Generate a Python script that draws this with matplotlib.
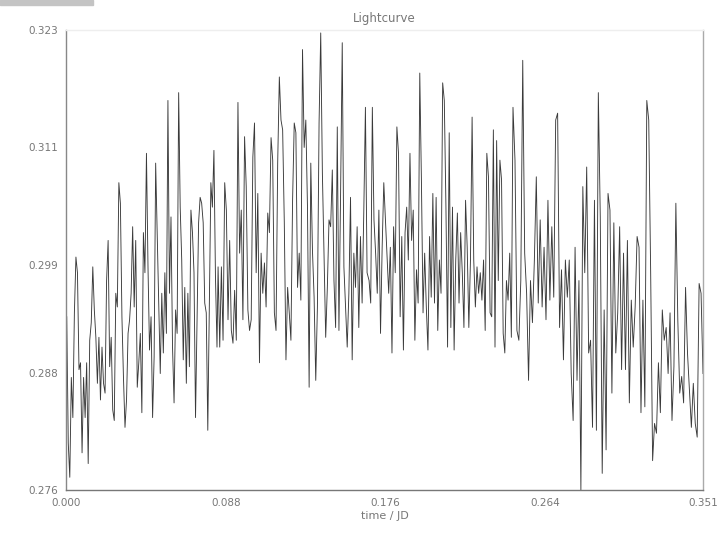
import numpy as np
import matplotlib
matplotlib.use("Agg")
import matplotlib.pyplot as plt
from matplotlib.patches import Rectangle

# flux values, left to right, in four stretches
flux_a = [0.2937, 0.2808, 0.2773, 0.2875, 0.2834, 0.2941, 0.2998, 0.2982, 0.2883, 0.2890,
          0.2798, 0.2875, 0.2834, 0.2890, 0.2787, 0.2913, 0.2931, 0.2988, 0.2944, 0.2916,
          0.2869, 0.2916, 0.2852, 0.2906, 0.2869, 0.2859, 0.2974, 0.3015, 0.2886, 0.2916,
          0.2842, 0.2831, 0.2961, 0.2947, 0.3074, 0.3053, 0.2937, 0.2875, 0.2824, 0.2852,
          0.2920, 0.2934, 0.2961, 0.3029, 0.2947, 0.3015, 0.2865, 0.2890, 0.2920, 0.2839,
          0.3023, 0.2982, 0.3104, 0.2988, 0.2903, 0.2937, 0.2834, 0.2896, 0.3094, 0.3023,
          0.2954, 0.2879, 0.2961, 0.2900, 0.2982, 0.2920, 0.3158, 0.2961, 0.3039, 0.2906,
          0.2849, 0.2944, 0.2920, 0.3166, 0.3049, 0.2995, 0.2893, 0.2967, 0.2869, 0.2961,
          0.2886, 0.3046, 0.3023, 0.2982, 0.2834, 0.2937, 0.3033, 0.3059, 0.3053, 0.3033,
          0.2951, 0.2941, 0.2821, 0.2947, 0.3074, 0.3049, 0.3107, 0.2978, 0.2906]
flux_b = [0.2988, 0.2906, 0.2988, 0.2913, 0.3074, 0.3046, 0.2934, 0.3015, 0.2923, 0.2910,
          0.2964, 0.2913, 0.3156, 0.3002, 0.3046, 0.2934, 0.3121, 0.3070, 0.2944, 0.2923,
          0.2934, 0.3100, 0.3135, 0.2982, 0.3063, 0.2890, 0.3002, 0.2961, 0.2992, 0.2947,
          0.3043, 0.3023, 0.3120, 0.3097, 0.2941, 0.2923, 0.3094, 0.3182, 0.3138, 0.3128,
          0.3033, 0.2893, 0.2967, 0.2941, 0.2913, 0.3056, 0.3135, 0.3125, 0.2967, 0.3002,
          0.2954, 0.3210, 0.3110, 0.3138, 0.3049, 0.2865, 0.3094, 0.3005, 0.2957, 0.2872,
          0.2947, 0.3135, 0.3227, 0.3084, 0.3002, 0.2916, 0.2967, 0.3036, 0.3029, 0.3087,
          0.2974, 0.2926, 0.3131, 0.2923, 0.3063, 0.3217, 0.2988, 0.2947, 0.2906, 0.2961,
          0.3059, 0.2893, 0.3002, 0.2967, 0.3029, 0.2926, 0.3019, 0.2951, 0.3043, 0.3151,
          0.2982]
flux_c = [0.2974, 0.2951, 0.3151, 0.3036, 0.3002, 0.2961, 0.3046, 0.2920, 0.3008, 0.3074,
          0.3036, 0.2998, 0.2961, 0.3008, 0.2900, 0.3029, 0.2982, 0.3131, 0.3104, 0.2937,
          0.3019, 0.2903, 0.3023, 0.3049, 0.2995, 0.3104, 0.3015, 0.3046, 0.2913, 0.2985,
          0.2951, 0.3186, 0.3077, 0.2941, 0.3002, 0.2947, 0.2903, 0.3019, 0.2957, 0.3063,
          0.2951, 0.3059, 0.2923, 0.2995, 0.2961, 0.3176, 0.3158, 0.3049, 0.2906, 0.3125,
          0.2926, 0.3049, 0.2903, 0.2995, 0.3043, 0.2951, 0.3023, 0.2982, 0.2926, 0.3056,
          0.3008, 0.2926, 0.2995, 0.3141, 0.2995, 0.2947, 0.2988, 0.2961, 0.2982, 0.2954,
          0.2995, 0.2923, 0.3104, 0.3080, 0.2941, 0.2937, 0.3128, 0.2906, 0.3117, 0.2974,
          0.3097, 0.3077, 0.2920, 0.2900, 0.2974, 0.2954, 0.3002, 0.2916, 0.3151]
flux_d = [0.3097, 0.2923, 0.2913, 0.2974, 0.3199, 0.3002, 0.2961, 0.2872, 0.2974, 0.2931,
          0.2995, 0.3080, 0.2951, 0.3036, 0.2947, 0.3008, 0.2934, 0.3056, 0.2954, 0.3029,
          0.2957, 0.3138, 0.3145, 0.2926, 0.2985, 0.2893, 0.2995, 0.2957, 0.2995, 0.2879,
          0.2831, 0.3008, 0.2872, 0.2974, 0.2760, 0.3070, 0.2982, 0.3090, 0.2900, 0.2913,
          0.2824, 0.3056, 0.2821, 0.3166, 0.3039, 0.2777, 0.2944, 0.2801, 0.3063, 0.3046,
          0.2859, 0.3033, 0.2900, 0.2941, 0.3029, 0.2883, 0.3002, 0.2883, 0.3015, 0.2849,
          0.2954, 0.2906, 0.2947, 0.3019, 0.3008, 0.2839, 0.2954, 0.2845, 0.3158, 0.3138,
          0.2982, 0.2790, 0.2828, 0.2818, 0.2890, 0.2839, 0.2944, 0.2913, 0.2926, 0.2879,
          0.2941, 0.2831, 0.2886, 0.3053, 0.2934, 0.2859, 0.2876, 0.2849, 0.2967, 0.2900,
          0.2862, 0.2824, 0.2869, 0.2828, 0.2814, 0.2971, 0.2961, 0.2879]

# time span (JD offset) that each stretch covers
span_a = (0.0004, 0.0832)
span_b = (0.0838, 0.1659)
span_c = (0.1670, 0.2463)
span_d = (0.2474, 0.3510)

t_end = 0.351
time = np.concatenate([np.linspace(s[0], s[1], len(f))
                       for s, f in [(span_a, flux_a), (span_b, flux_b),
                                    (span_c, flux_c), (span_d, flux_d)]])
flux = np.array(flux_a + flux_b + flux_c + flux_d)

xticks = [0.0, 0.088, 0.176, 0.264, 0.351]
xtick_labels = ["0.000", "0.088", "0.176", "0.264", "0.351"]
yticks = [0.276, 0.288, 0.299, 0.311, 0.323]
ytick_labels = ["0.276", "0.288", "0.299", "0.311", "0.323"]

txt = "#777777"

fig = plt.figure(figsize=(7.2, 5.4), dpi=100)
ax = fig.add_axes([66 / 720, 50 / 540, 637 / 720, 460 / 540])
ax.plot(time, flux, color="#3a3a3a", lw=0.65)

ax.set_xlim(0.0, t_end)
ax.set_ylim(0.276, 0.323)
ax.set_xticks(xticks)
ax.set_xticklabels(xtick_labels)
ax.set_yticks(yticks)
ax.set_yticklabels(ytick_labels)
ax.tick_params(length=0, labelsize=7.5, labelcolor=txt, pad=6)

ax.spines["left"].set_color("#888888")
ax.spines["bottom"].set_color("#777777")
ax.spines["right"].set_color("#aaaaaa")
ax.spines["top"].set_color("#eeeeee")
for s in ax.spines.values():
    s.set_linewidth(1.0)

ax.set_title("Lightcurve", fontsize=8.5, color=txt, pad=6)
ax.set_xlabel("time / JD", fontsize=8, color=txt, labelpad=2)

# grey strip at the top left corner
fig.patches.append(Rectangle((0, 1 - 5 / 540), 93 / 720, 5 / 540,
                             transform=fig.transFigure, color="#c4c4c4", zorder=5))

fig.savefig("out.png", dpi=100)
